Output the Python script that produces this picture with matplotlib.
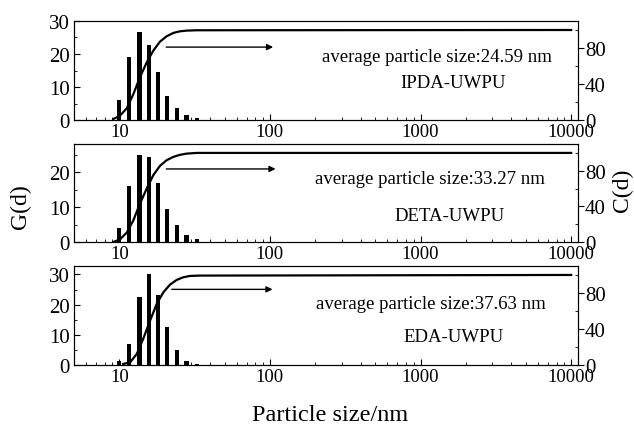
import numpy as np
import matplotlib
matplotlib.use("Agg")
import matplotlib.pyplot as plt
from matplotlib.ticker import FixedLocator, NullFormatter

plt.rcParams['font.family'] = ['Liberation Serif', 'DejaVu Serif']

# bar positions (nm) shared by all three samples
bin_x = [10.0, 11.65, 13.6, 15.66, 18.05, 20.8, 24.2, 27.9, 32.6]

# G(d) bar heights
ipda_g = [6.1, 19.0, 26.8, 22.7, 14.6, 7.4, 3.5, 1.4, 0.6]
deta_g = [4.1, 15.9, 24.9, 24.2, 16.9, 9.5, 4.8, 1.9, 0.8]
eda_g = [1.2, 7.0, 22.4, 30.1, 23.2, 12.5, 5.0, 1.4, 0.4]

# C(d) cumulative curves
ipda_cx = [9.13, 10.1, 11.2, 12.4, 13.7, 15.2, 16.8, 18.6, 20.6, 22.8, 25.2, 27.9, 32.6, 10000]
ipda_c = [1.1, 4.8, 13.0, 28.9, 47.4, 64.0, 77.0, 87.0, 93.0, 96.7, 98.5, 99.3, 99.7, 100]
deta_cx = [9.13, 10.1, 11.2, 12.4, 13.7, 15.2, 16.8, 18.6, 20.6, 22.8, 25.2, 27.9, 32.6, 10000]
deta_c = [0.0, 3.0, 10.5, 24.4, 43.0, 60.0, 75.0, 85.4, 91.8, 95.5, 97.8, 99.2, 100, 100]
eda_cx = [10.6, 11.8, 13.05, 14.4, 16.0, 17.7, 19.6, 21.7, 24.0, 26.5, 29.4, 34.2, 10000]
eda_c = [1.1, 3.0, 12.2, 28.9, 49.3, 67.8, 80.7, 89.3, 94.4, 97.4, 98.9, 99.3, 100]

avg_sizes = ['24.59', '33.27', '37.63']
names = ['IPDA-UWPU', 'DETA-UWPU', 'EDA-UWPU']
g_data = [ipda_g, deta_g, eda_g]
c_data = [(ipda_cx, ipda_c), (deta_cx, deta_c), (eda_cx, eda_c)]
g_ylim = [30, 28, 32.8]
g_ticks = [[0, 10, 20, 30], [0, 10, 20], [0, 10, 20, 30]]
arrows = [(20.5, 105, 81), (20.5, 109, 82), (22.3, 104, 84)]

# layout (figure fractions)
rects = [(0.1167, 0.7166, 0.795, 0.2319),
         (0.1167, 0.4309, 0.795, 0.2295),
         (0.1167, 0.1429, 0.795, 0.2319)]
text_pos = [((0.721, 0.646), (0.752, 0.374)),
            ((0.706, 0.643), (0.745, 0.268)),
            ((0.708, 0.616), (0.754, 0.283))]

fig = plt.figure(figsize=(6.34, 4.27), dpi=100)
half = 0.014  # bar half width in decades

for i in range(3):
    ax = fig.add_axes(rects[i])
    ax.set_xscale('log')
    x = np.array(bin_x)
    left = x / 10**half
    ax.bar(left, g_data[i], width=x * 10**half - left, align='edge',
           color='black', edgecolor='none')
    ax.set_xlim(5, 11100)
    ax.set_ylim(0, g_ylim[i])
    ax.set_yticks(g_ticks[i])
    ax.yaxis.set_minor_locator(FixedLocator([5, 15, 25]))
    ax.tick_params(axis='both', which='both', direction='in',
                   top=False, right=False)
    ax.tick_params(axis='both', which='major', length=4)
    ax.tick_params(axis='x', which='major', labelsize=13.5, pad=2)
    ax.tick_params(axis='y', which='major', labelsize=15, pad=3)
    ax.tick_params(axis='both', which='minor', length=2)
    ax.set_xticks([10, 100, 1000, 10000])
    ax.set_xticklabels(['10', '100', '1000', '10000'])
    ax.xaxis.set_minor_formatter(NullFormatter())

    ax2 = ax.twinx()
    cx, cy = c_data[i]
    ax2.plot(cx, cy, color='black', lw=1.6)
    ax2.set_ylim(0, 110)
    ax2.set_yticks([0, 40, 80])
    ax2.yaxis.set_minor_locator(FixedLocator([20, 60, 100]))
    ax2.tick_params(axis='y', which='major', direction='out', length=4,
                    labelsize=15, pad=1)
    ax2.tick_params(axis='y', which='minor', direction='in', length=2)
    x0, x1, ya = arrows[i]
    ax2.annotate('', xy=(x1, ya), xytext=(x0, ya),
                 arrowprops=dict(arrowstyle='-|>', color='black', lw=1.0,
                                 mutation_scale=9, shrinkA=0, shrinkB=0))
    (tx, ty), (nx, ny) = text_pos[i]
    ax.text(tx, ty, 'average particle size:' + avg_sizes[i] + ' nm',
            transform=ax.transAxes, ha='center', va='center', fontsize=13.5)
    ax.text(nx, ny, names[i], transform=ax.transAxes, ha='center',
            va='center', fontsize=13.5)

fig.text(0.033, 0.517, 'G(d)', rotation=90, ha='center', va='center', fontsize=17)
fig.text(0.982, 0.555, 'C(d)', rotation=90, ha='center', va='center', fontsize=17)
fig.text(0.52, 0.028, 'Particle size/nm', ha='center', va='center', fontsize=17.5)

fig.savefig('out.png', dpi=100)
